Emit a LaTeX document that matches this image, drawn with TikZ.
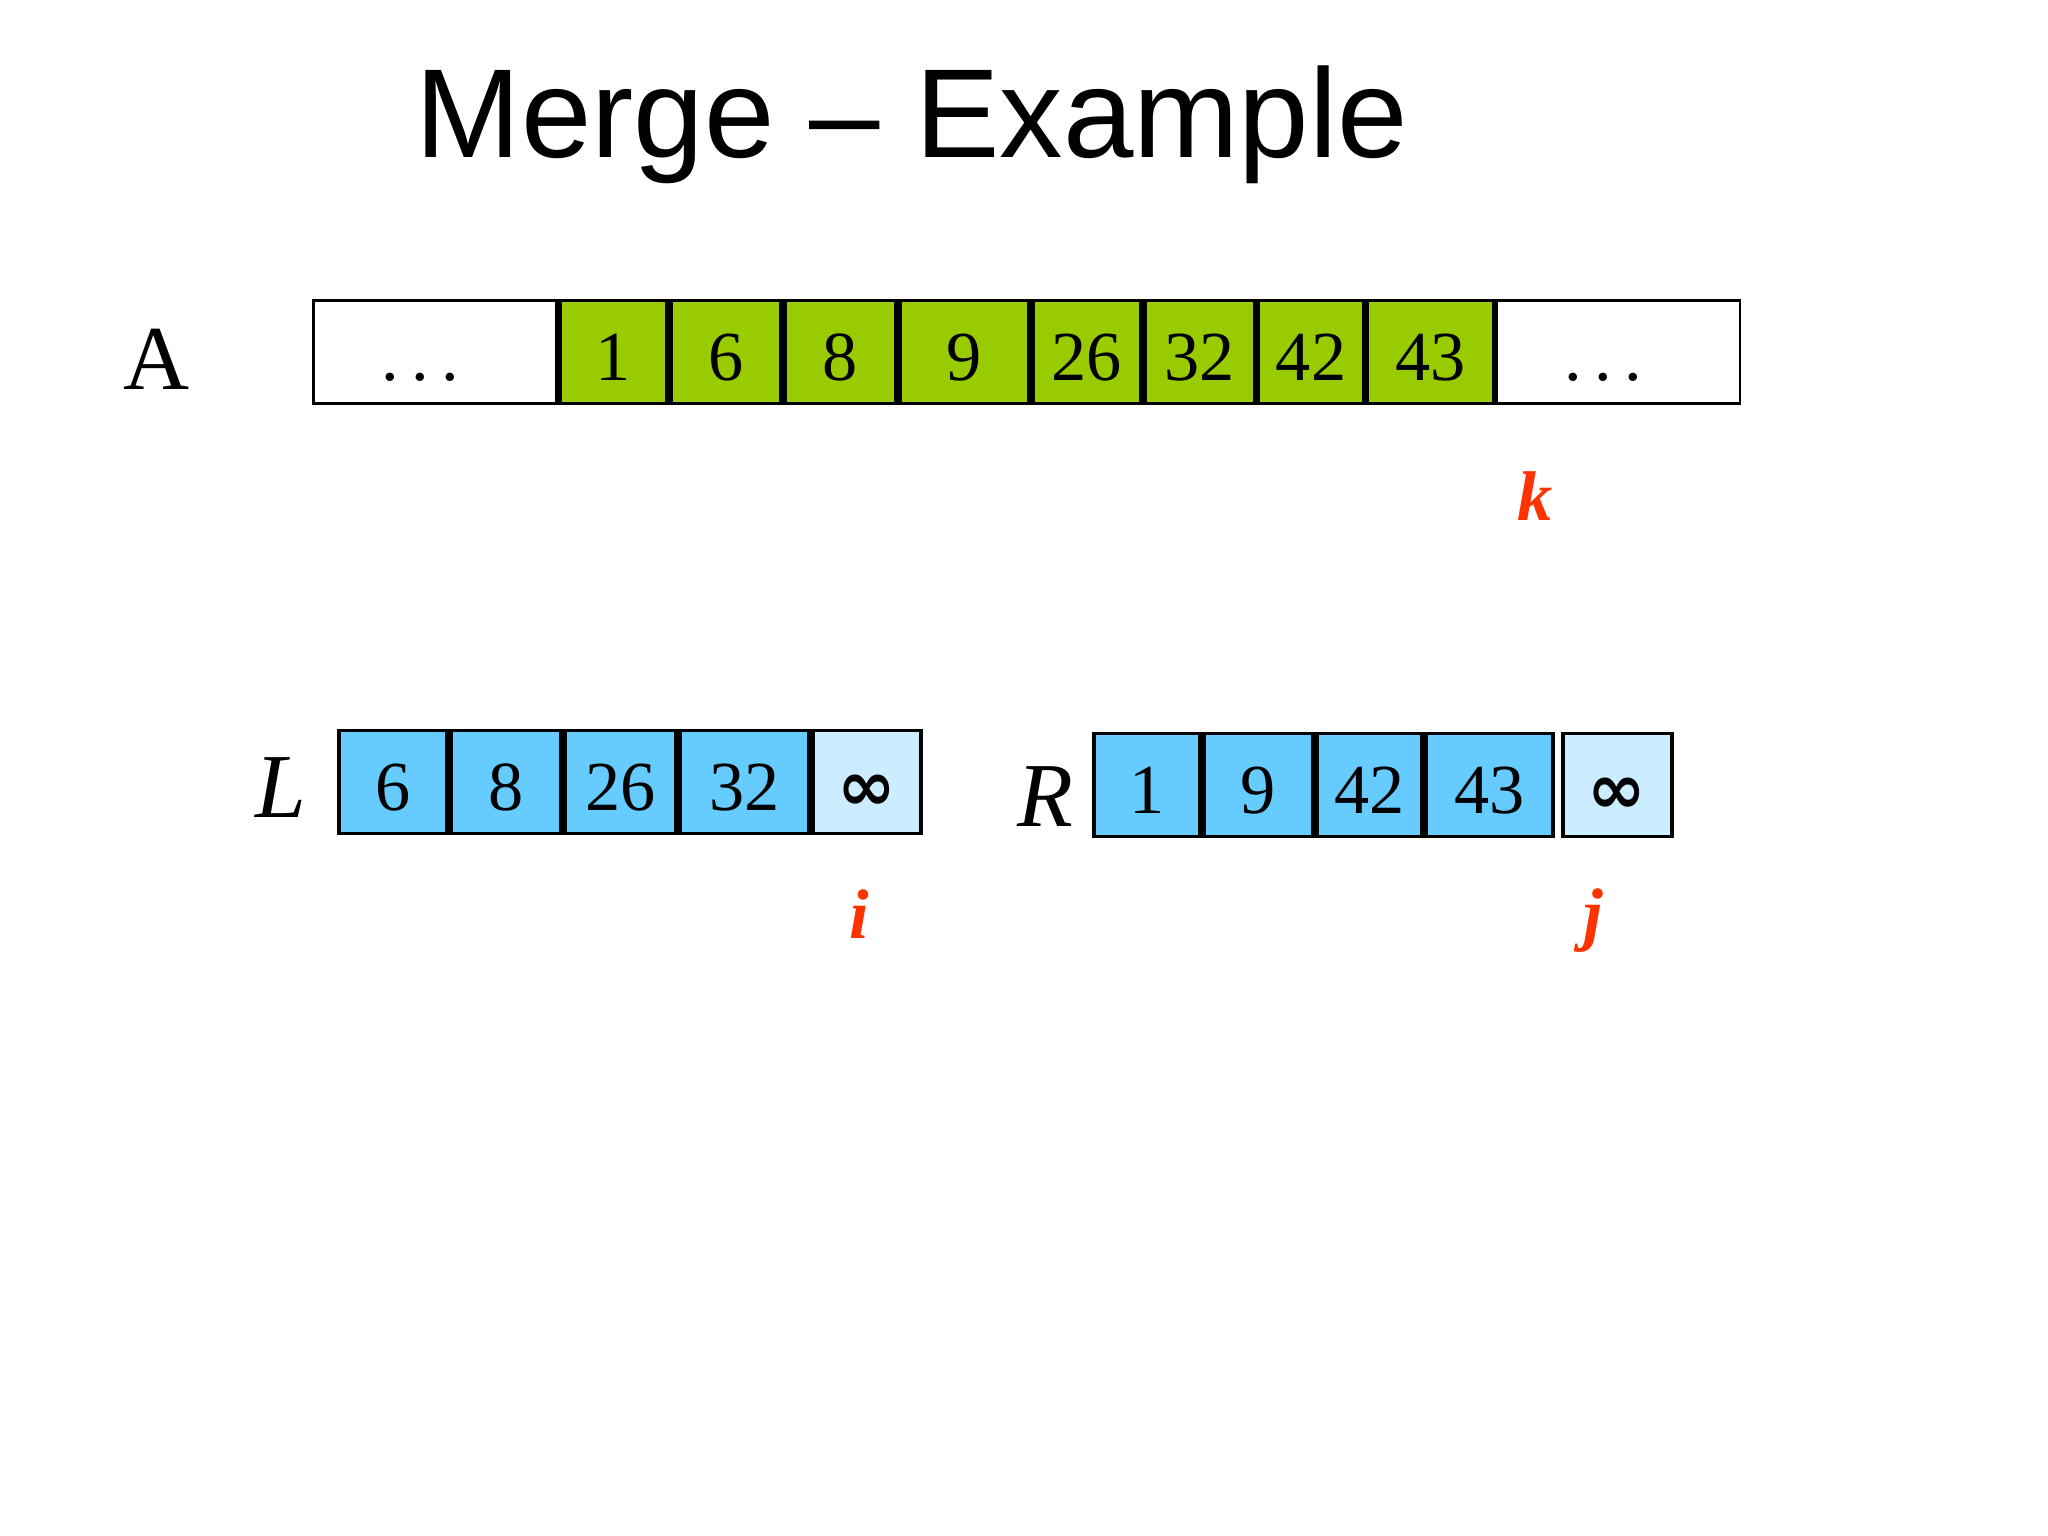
\documentclass[tikz,border=0pt]{standalone}
\usepackage{fontspec}
\setmainfont{Liberation Serif}
\newfontfamily\titlefont{Liberation Sans}
\newfontfamily\infinityfont{DejaVu Sans}
\usetikzlibrary{positioning}
\definecolor{mergegreen}{HTML}{99CC00}
\definecolor{runblue}{HTML}{66CCFF}
\definecolor{sentinel}{HTML}{CCECFF}
\definecolor{ptrred}{HTML}{FF3300}
\newcommand{\gap}{.\kern3.5pt.\kern3.5pt.\kern0.3cm}

\begin{document}
\begin{tikzpicture}[x=0.01cm, y=-0.01cm,
                    cell/.style={draw, line width=1.1pt, minimum height=1.03cm, inner sep=0pt, text height=0.6cm, text depth=0.04cm, font=\fontsize{20}{24}\selectfont},
                    done/.style={cell, fill=mergegreen},
                    run/.style={cell, fill=runblue},
                    guard/.style={cell, fill=sentinel, font=\infinityfont\bfseries\fontsize{20}{24}\selectfont},
                    rest/.style={cell, line width=0.8pt, minimum width=2.43cm},
                    arrname/.style={font=\fontsize{26}{30}\selectfont},
                    pointer/.style={text=ptrred, font=\fontsize{20}{24}\selectfont\bfseries\itshape},
                ]
                \useasboundingbox (0,0) rectangle (2048,1536);
                %Title
                \node[anchor=base, font=\titlefont\fontsize{36}{40}\selectfont] (title) at (912,157) {Merge – Example};

                %Array A
                \node[rest, anchor=west] (a0) at (312,352) {\gap};
                \node[done, minimum width=1.07cm] (a1) [right=0 of a0] {1};
                \node[done, minimum width=1.10cm] (a2) [right=0 of a1] {6};
                \node[done, minimum width=1.11cm] (a3) [right=0 of a2] {8};
                \node[done, minimum width=1.29cm] (a4) [right=0 of a3] {9};
                \node[done, minimum width=1.08cm] (a5) [right=0 of a4] {26};
                \node[done, minimum width=1.10cm] (a6) [right=0 of a5] {32};
                \node[done, minimum width=1.05cm] (a7) [right=0 of a6] {42};
                \node[done, minimum width=1.26cm] (a8) [right=0 of a7] {43};
                \node[rest] (a9) [right=0 of a8] {\gap};
                \node[arrname] (aname) at (157,359) {A};
                \node[pointer] (k) at (1535,496) {k};

                %Array L
                \node[run, minimum width=1.08cm, anchor=west] (l1) at (337,782) {6};
                \node[run, minimum width=1.10cm] (l2) [right=0 of l1] {8};
                \node[run, minimum width=1.11cm] (l3) [right=0 of l2] {26};
                \node[run, minimum width=1.29cm] (l4) [right=0 of l3] {32};
                \node[guard, minimum width=1.08cm] (l5) [right=0 of l4] {∞};
                \node[arrname, font=\fontsize{26}{30}\selectfont\itshape] (lname) at (281,788) {L};
                \node[pointer] (i) at (859,914) {i};

                %Array R
                \node[run, minimum width=1.06cm, anchor=west] (r1) at (1092,785) {1};
                \node[run, minimum width=1.09cm] (r2) [right=0 of r1] {9};
                \node[run, minimum width=1.05cm] (r3) [right=0 of r2] {42};
                \node[run, minimum width=1.27cm] (r4) [right=0 of r3] {43};
                \node[guard, minimum width=1.09cm] (r5) [right=0.06cm of r4] {∞};
                \node[arrname, font=\fontsize{26}{30}\selectfont\itshape] (rname) at (1045,797) {R};
                \node[pointer] (j) at (1593,921) {j};
            \end{tikzpicture}
\end{document}
